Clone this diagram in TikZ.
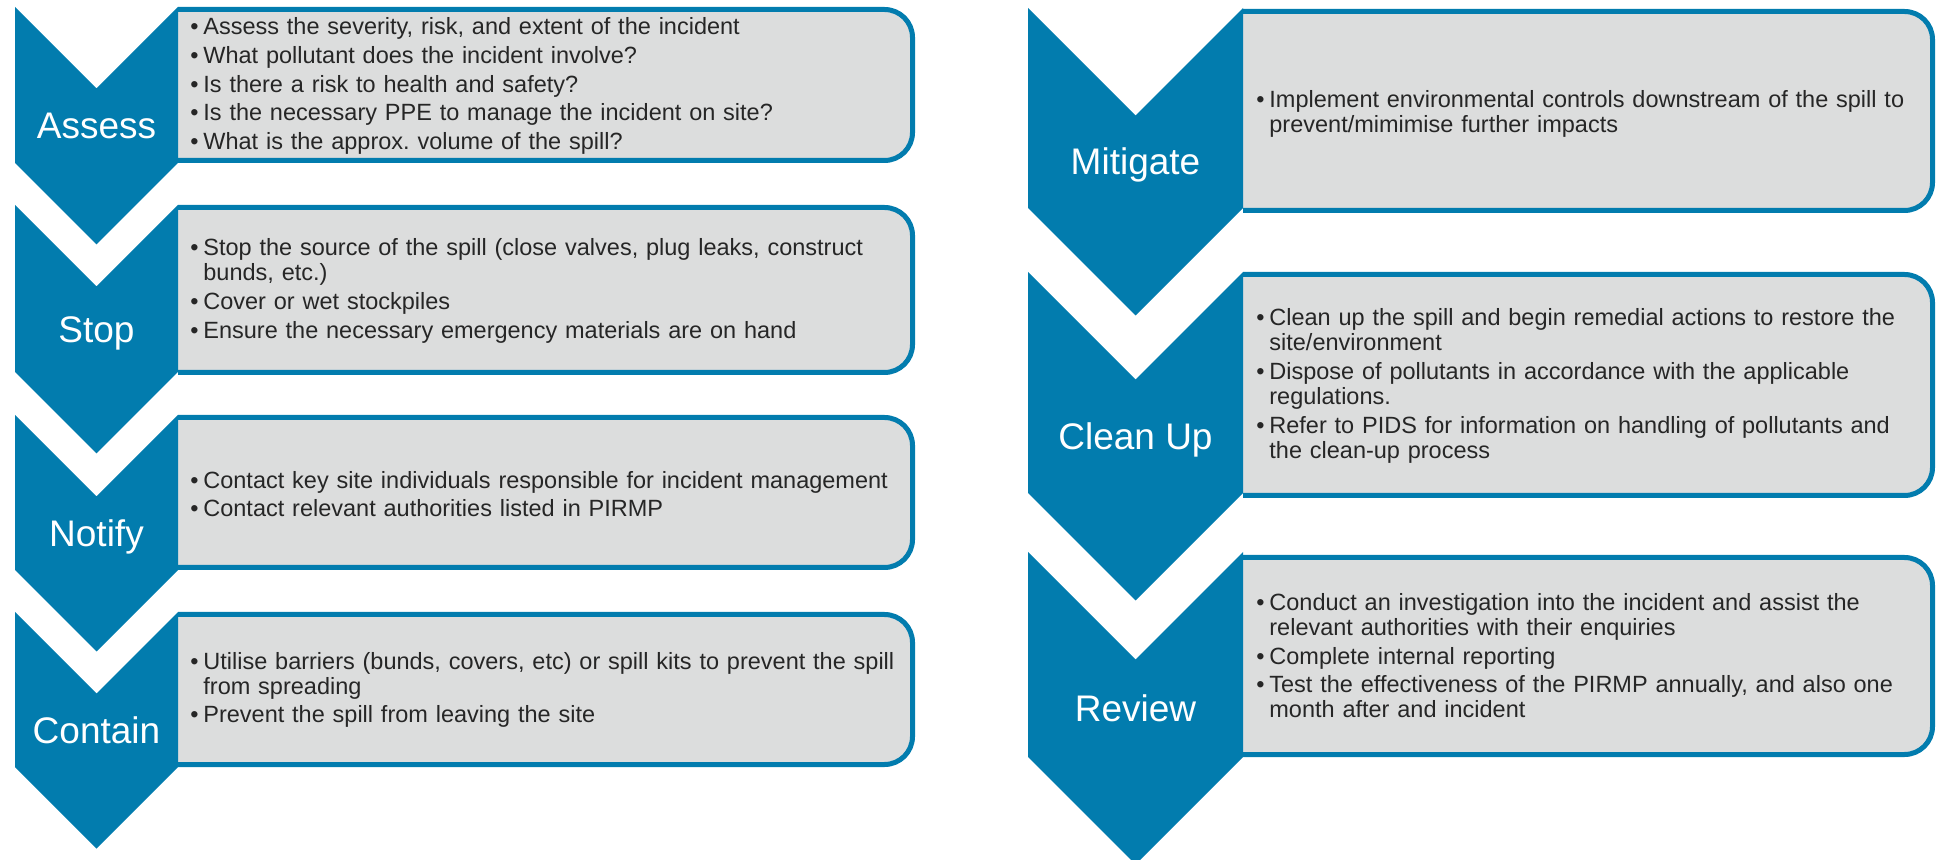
\documentclass[tikz,border=0pt]{standalone}
\usepackage{fontspec}
\setmainfont{Liberation Sans}
\usetikzlibrary{positioning}
\definecolor{cblue}{HTML}{027CAE}
\definecolor{cpanel}{HTML}{DCDDDD}
\definecolor{ctext}{HTML}{262626}
\frenchspacing
\newcommand{\pitem}[1]{\noindent\hangindent=6.5pt\hangafter=1\makebox[6.5pt][l]{\textbullet}#1\par}
\tikzset{
  chev/.style={fill=cblue},
  panel/.style={draw=cblue, fill=cpanel, line width=2.5pt, rounded corners=14pt},
  steplabel/.style={text=white, font=\fontsize{18.5}{20}\selectfont, text height=13.2pt, text depth=0pt, inner sep=0pt},
  bullets/.style={text=ctext, font=\fontsize{11.75}{12.5}\selectfont, align=left, inner sep=0pt, anchor=west,
    execute at begin node=\setlength{\parskip}{1.8pt}},
}

\begin{document}
\begin{tikzpicture}[x=0.5pt, y=-0.5pt]
  \useasboundingbox (0,0) rectangle (1939,860);
  \clip (0,0) rectangle (1939,860);
  % panels, left column
  \filldraw[panel] (178,9.5)   -- (912.5,9.5)   -- (912.5,160.5) -- (178,160.5);
  \filldraw[panel] (178,207.5) -- (912.5,207.5) -- (912.5,372.5) -- (178,372.5);
  \filldraw[panel] (178,417.5) -- (912.5,417.5) -- (912.5,567.5) -- (178,567.5);
  \filldraw[panel] (178,614.5) -- (912.5,614.5) -- (912.5,764.5) -- (178,764.5);
  % panels, right column
  \filldraw[panel] (1243,11.5)  -- (1932.5,11.5)  -- (1932.5,210.5) -- (1243,210.5);
  \filldraw[panel] (1243,274.5) -- (1932.5,274.5) -- (1932.5,495.5) -- (1243,495.5);
  \filldraw[panel] (1243,557.5) -- (1932.5,557.5) -- (1932.5,754.5) -- (1243,754.5);
  % chevrons
  \fill[chev] (15,7)   -- (96.5,88.5)  -- (178,7)   -- (178,163) -- (96.5,244.5) -- (15,163) -- cycle;
  \fill[chev] (15,205) -- (96.5,286.5) -- (178,205) -- (178,372) -- (96.5,453.5) -- (15,372) -- cycle;
  \fill[chev] (15,415) -- (96.5,496.5) -- (178,415) -- (178,570) -- (96.5,651.5) -- (15,570) -- cycle;
  \fill[chev] (15,612) -- (96.5,693.5) -- (178,612) -- (178,767) -- (96.5,848.5) -- (15,767) -- cycle;
  \fill[chev] (1028,8)   -- (1135.5,115.5) -- (1243,8)   -- (1243,208) -- (1135.5,315.5) -- (1028,208) -- cycle;
  \fill[chev] (1028,272) -- (1135.5,379.5) -- (1243,272) -- (1243,493) -- (1135.5,600.5) -- (1028,493) -- cycle;
  \fill[chev] (1028,552) -- (1135.5,659.5) -- (1243,552) -- (1243,757) -- (1135.5,864.5) -- (1028,757) -- cycle;
  % step names
  \node[steplabel] (assess)   at (96.5,125.75)   {Assess};
  \node[steplabel] (stop)     at (96.5,329.25)   {Stop};
  \node[steplabel] (notify)   at (96.5,533.25)   {Notify};
  \node[steplabel] (contain)  at (96.5,730.25)   {Contain};
  \node[steplabel] (mitigate) at (1135.5,161.75) {Mitigate};
  \node[steplabel] (cleanup)  at (1135.5,436.25) {Clean Up};
  \node[steplabel] (review)   at (1135.5,708.25) {Review};
  % what to do at each step
  \node[bullets, text width=365pt] (assess-txt) at (190,86) {%
    \pitem{Assess the severity, risk, and extent of the incident}%
    \pitem{What pollutant does the incident involve?}%
    \pitem{Is there a risk to health and safety?}%
    \pitem{Is the necessary PPE to manage the incident on site?}%
    \pitem{What is the approx. volume of the spill?}};
  \node[bullets, text width=365pt] (stop-txt) at (190,291) {%
    \pitem{Stop the source of the spill (close valves, plug leaks, construct\newline bunds, etc.)}%
    \pitem{Cover or wet stockpiles}%
    \pitem{Ensure the necessary emergency materials are on hand}};
  \node[bullets, text width=365pt] (notify-txt) at (190,494) {%
    \pitem{Contact key site individuals responsible for incident management}%
    \pitem{Contact relevant authorities listed in PIRMP}};
  \node[bullets, text width=365pt] (contain-txt) at (190,690) {%
    \pitem{Utilise barriers (bunds, covers, etc) or spill kits to prevent the spill\newline from spreading}%
    \pitem{Prevent the spill from leaving the site}};
  \node[bullets, text width=340pt] (mitigate-txt) at (1256,114) {%
    \pitem{Implement environmental controls downstream of the spill to\newline prevent/mimimise further impacts}};
  \node[bullets, text width=340pt] (cleanup-txt) at (1256,386) {%
    \pitem{Clean up the spill and begin remedial actions to restore the\newline site/environment}%
    \pitem{Dispose of pollutants in accordance with the applicable\newline regulations.}%
    \pitem{Refer to PIDS for information on handling of pollutants and\newline the clean-up process}};
  \node[bullets, text width=340pt] (review-txt) at (1256,656) {%
    \pitem{Conduct an investigation into the incident and assist the\newline relevant authorities with their enquiries}%
    \pitem{Complete internal reporting}%
    \pitem{Test the effectiveness of the PIRMP annually, and also one\newline month after and incident}};
\end{tikzpicture}
\end{document}
